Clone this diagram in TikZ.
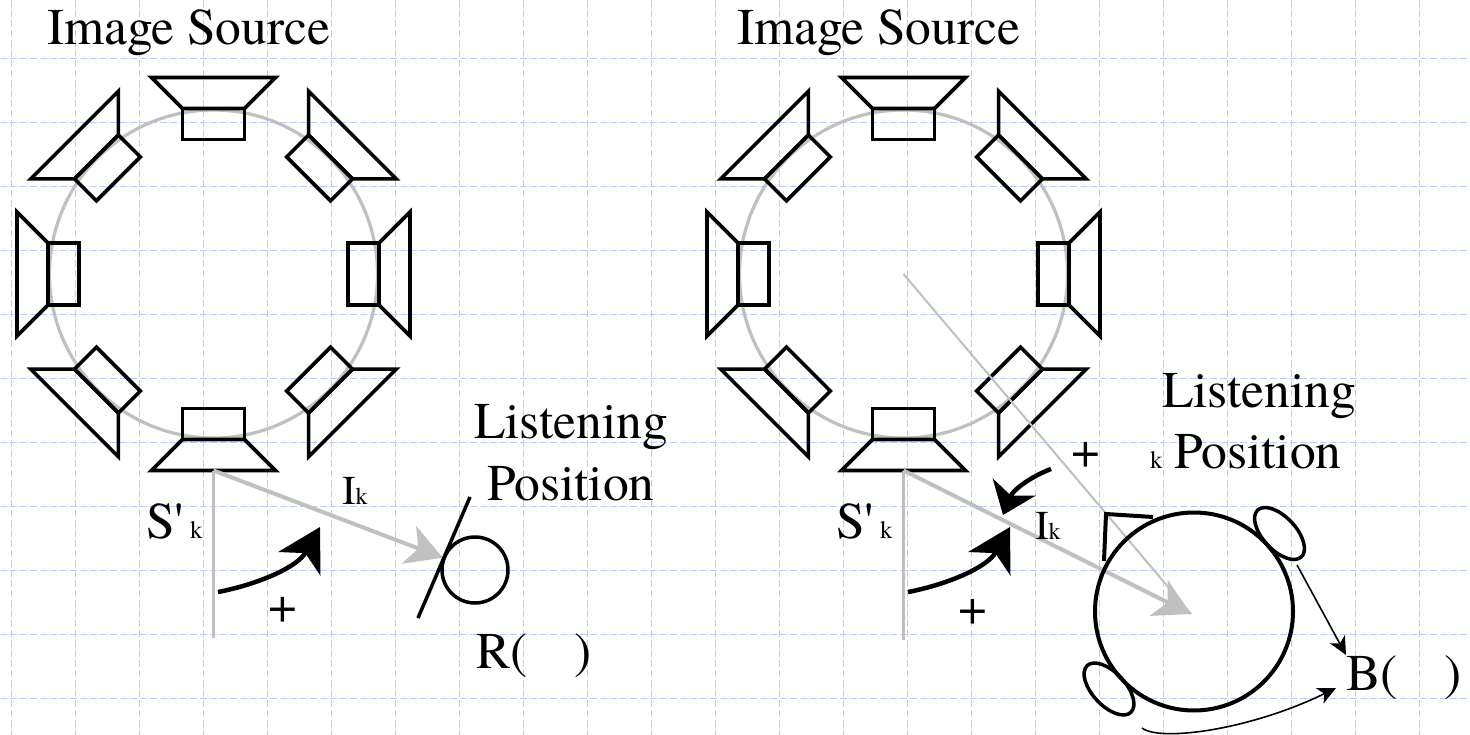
\documentclass[tikz,border=0pt]{standalone}
\usepackage{fontspec}
\setmainfont{texgyretermes}[Extension=.otf, UprightFont=*-regular, BoldFont=*-bold, ItalicFont=*-italic, BoldItalicFont=*-bolditalic]
\usetikzlibrary{arrows.meta,shapes.geometric}
\definecolor{gridblue}{RGB}{185,204,250}
\definecolor{lgray}{RGB}{192,192,192}
\begin{document}
\begin{tikzpicture}[x=1pt,y=-1pt,
  gridline/.style={draw=gridblue, line width=1.3pt, dash pattern=on 7pt off 3pt},
  ringline/.style={draw=lgray, line width=3.2pt},
  spk/.style={draw=black, line width=3.6pt, line join=miter},
  gline/.style={draw=lgray, line width=3pt},
  garrow/.style={draw=lgray, line width=4pt, -{Stealth[length=36pt, width=40pt, inset=10pt, fill=lgray]}},
  thingray/.style={draw=lgray, line width=2pt},
  bigarrow/.style={draw=black, line width=4.5pt, -{Stealth[length=42pt, width=48pt, inset=12pt]}},
  bigarrowb/.style={draw=black, line width=4.5pt, -{Stealth[length=30pt, width=46pt, inset=9pt]}},
  thinarrow/.style={draw=black, line width=1.6pt, -{Stealth[length=18pt, width=17pt, inset=5pt]}},
  big/.style={font=\fontsize{51.5}{60}\selectfont, inner sep=0pt, outer sep=0pt},
  mid/.style={font=\fontsize{41}{48}\selectfont, inner sep=0pt, outer sep=0pt},
  small/.style={font=\fontsize{25}{30}\selectfont, inner sep=0pt, outer sep=0pt},
  plus/.style={font=\fontsize{51}{60}\selectfont, inner sep=0pt, outer sep=0pt, anchor=center}
]
\useasboundingbox (0,0) rectangle (1470,735);
\fill[white] (0,0) rectangle (1470,735);
% grid
\foreach \i in {0,...,22} \draw[gridline] ({11.3+64*\i},0) -- ({11.3+64*\i},735);
\foreach \j in {0,...,10} \draw[gridline] (0,{58.7+64*\j}) -- (1470,{58.7+64*\j});

% speaker rings
\coordinate (ringL) at (213.5,274);
\coordinate (ringR) at (903.5,274);
\foreach \cx in {213.5, 903.5} {
  \draw[ringline] (\cx,274) circle[radius=164];
  \foreach \a in {0,45,...,315} {
    \begin{scope}[shift={(\cx,274)}, rotate=\a]
      \draw[spk] (-31,-134.5) rectangle (31,-165.5);
      \draw[spk] (-31,-165.5) -- (31,-165.5) -- (62,-196.5) -- (-62,-196.5) -- cycle;
    \end{scope}
  }
}

% ---------- left half ----------
\coordinate (srcL) at (213.5,470.5);
\coordinate (vbL) at (213.5,638);
\node[circle, draw, line width=3.5pt, minimum size=66pt, inner sep=0pt, outer sep=1.5pt] (lpL) at (475,570) {};
\coordinate (slA) at (470,497);
\coordinate (slB) at (418,618);
\draw[gline] (srcL) -- (vbL);
\draw[garrow] (srcL) -- (lpL);
\draw[line width=3.5pt] (slA) -- (slB);
\coordinate (a1sL) at (218,592);
\coordinate (a1eL) at (320,527);
\draw[bigarrow] (a1sL) .. controls (255,585) and (297,568) .. (a1eL);

\node[big, anchor=base west] (isL) at (47,45) {Image Source};
\node[big, anchor=base west] (lsL) at (474,438) {Listening};
\node[big, anchor=base west] (psL) at (487,500) {Position};
\node[big, anchor=base west] (skL) at (146,538) {S\textquotesingle{\fontsize{25}{30}\selectfont\ k}};
\node[mid, anchor=base west] (ikL) at (342,504) {I{\fontsize{24}{28}\selectfont k}};
\node[plus] (pL) at (283,610) {+};
\node[big, anchor=base west] (rL) at (476,668) {R(\hspace{47pt})};

% ---------- right half ----------
\coordinate (srcR) at (903.5,470.5);
\coordinate (vbR) at (903.5,640);
\coordinate (headc) at (1191,614);
\draw[gline] (srcR) -- (vbR);
\draw[thingray] (ringR) -- (headc);
\draw[garrow] (srcR) -- (headc);

\node[circle, draw, line width=4pt, minimum size=198pt, inner sep=0pt] (head) at (1194,611.5) {};
\coordinate (n1) at (1104,561);
\coordinate (n2) at (1106,514);
\coordinate (n3) at (1153,517);
\draw[line width=4pt, line join=miter] (n1) -- (n2) -- (n3);
\node[ellipse, draw, line width=3.5pt, minimum width=64pt, minimum height=33pt, inner sep=0pt, rotate=-47] (earR) at (1279.5,533.5) {};
\node[ellipse, draw, line width=3.5pt, minimum width=64pt, minimum height=33pt, inner sep=0pt, rotate=-47] (earL) at (1109,689) {};

\coordinate (a1sR) at (908,592);
\coordinate (a1eR) at (1010,527);
\draw[bigarrow] (a1sR) .. controls (945,585) and (987,568) .. (a1eR);
\coordinate (a2s) at (1051,469);
\coordinate (a2e) at (1003,515);
\draw[bigarrowb] (a2s) .. controls (1030,477) and (1013,490) .. (a2e);

\coordinate (t1s) at (1297,565);
\coordinate (t1e) at (1346,655);
\draw[thinarrow] (t1s) -- (t1e);
\coordinate (t2s) at (1142,728);
\coordinate (t2e) at (1336,688);
\draw[thinarrow] (t2s) .. controls (1160,742) and (1250,730) .. (t2e);

\node[big, anchor=base west] (isR) at (737,45) {Image Source};
\node[big, anchor=base west] (lsR) at (1162,407) {Listening};
\node[big, anchor=base west] (psR) at (1174,468) {Position};
\node[small, anchor=base west] (kR) at (1150,468) {k};
\node[big, anchor=base west] (skR) at (836,538) {S\textquotesingle{\fontsize{25}{30}\selectfont\ k}};
\node[mid, anchor=base west] (ikR) at (1035,539) {I{\fontsize{24}{28}\selectfont k}};
\node[plus] (pR1) at (973,612) {+};
\node[plus] (pR2) at (1086,455) {+};
\node[big, anchor=base west] (bR) at (1346,690) {B(\hspace{47pt})};
\end{tikzpicture}
\end{document}
